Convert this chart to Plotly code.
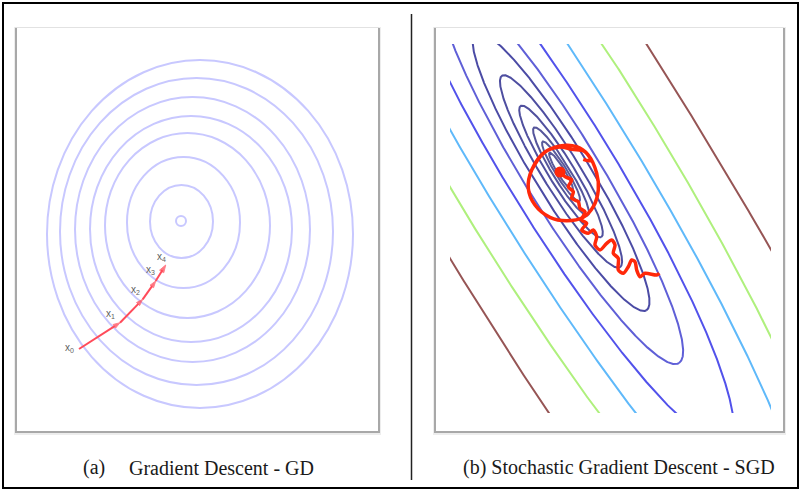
import numpy as np
import plotly.graph_objects as go

W, H = 801, 491

# ---------------- data (pixel-space units) ----------------
# (a) Gradient descent: near-concentric level curves (centre x, centre y, half-width, half-height)
gd_cx = [181, 181.5, 183.5, 187.5, 191, 192.5, 196.5, 200]
gd_cy = [221, 221.5, 222.5, 225.5, 229, 229.5, 231.5, 234]
gd_rx = [5, 31.5, 56.5, 82.5, 101, 117.5, 136.5, 153]
gd_ry = [5, 36.5, 65.5, 92.5, 113, 132.5, 153.5, 174]

# GD iterates x0..x4
gd_px = [79, 120, 142.7, 155.7, 165.7]
gd_py = [349, 322.7, 299.3, 281, 265]
gd_lab = ["x<sub>0</sub>", "x<sub>1</sub>", "x<sub>2</sub>", "x<sub>3</sub>", "x<sub>4</sub>"]
gd_lab_x = [69, 110, 135, 150, 161.5]
gd_lab_y = [348, 314, 290, 270, 257]

# (b) SGD: elongated level curves, in rotated coords (u along the valley, v across it)
sgd_angle_deg = 58.4
sgd_u0 = 440
sgd_v0 = 388
sgd_a = [22, 35, 51.5, 77, 112.5, 163, 225, 318, 464, 557, 985]
sgd_b = [3.7, 5.8, 8.6, 12.8, 18.8, 27.2, 37.5, 53, 74.3, 103.2, 140.3]
sgd_col = ["rgb(90,90,155)", "rgb(90,90,155)", "rgb(85,85,155)", "rgb(80,80,158)",
           "rgb(78,78,160)", "rgb(75,75,165)", "rgb(95,95,215)", "rgb(82,82,235)",
           "rgb(95,185,250)", "rgb(175,240,125)", "rgb(150,85,85)"]

# SGD noisy path (hand-drawn) and the circle around the minimum
sgd_path_x = [560, 565, 571.7, 568.3, 573.3, 571.7, 578.3, 580, 585, 581.7, 586.7, 581.7,
              588.3, 593.3, 596.7, 595, 600, 606.7, 611.7, 615, 613.3, 618.3, 618.3, 623.3,
              628.3, 631.7, 635, 636.7, 640, 645, 656.7, 659.3]
sgd_path_y = [171.7, 176.7, 180, 186.7, 191.7, 198.3, 201.7, 208.3, 211.7, 220, 223.3, 230,
              233.3, 230, 236.7, 245, 250, 243.3, 240, 245, 253.3, 258.3, 270, 273.3,
              266.7, 260, 261.7, 270, 276.7, 273.3, 275, 273.3]
ring_x = [531.7, 543.3, 560, 576.7, 588.3, 596.7, 598.3, 593.3, 583.3, 566.7, 550, 535,
          528.3, 531.7, 545, 560, 571.7, 585, 590.7, 583.3]
ring_y = [170, 153.3, 146, 146.7, 155, 173.3, 190, 206.7, 217.3, 220.7, 217.3, 205,
          188.3, 170, 152, 147, 149.3, 151.7, 160.7, 159.3]
min_x = [560]
min_y = [172]

caption_a_tag = "(a)"
caption_a = "Gradient Descent - GD"
caption_b = "(b) Stochastic Gradient Descent - SGD"

# ---------------- figure ----------------
fig = go.Figure()

def px(x):
    return x / W

def py(y):
    return 1 - y / H

shapes = []
# outer frame
shapes.append(dict(type="rect", xref="paper", yref="paper", x0=px(3), x1=px(798), y0=py(488), y1=py(3),
                   line=dict(color="black", width=2), layer="below"))
# divider
shapes.append(dict(type="line", xref="paper", yref="paper", x0=px(411.5), x1=px(411.5), y0=py(480), y1=py(14),
                   line=dict(color="#222", width=1.5), layer="below"))

def panel_box(x0, y0, x1, y1):
    out = []
    out.append(dict(type="rect", xref="paper", yref="paper", x0=px(x0 - 1), x1=px(x1 + 2), y0=py(y1 + 3), y1=py(y0),
                    line=dict(width=0), fillcolor="rgba(0,0,0,0.07)", layer="below"))
    out.append(dict(type="rect", xref="paper", yref="paper", x0=px(x0), x1=px(x1 + 1), y0=py(y1 + 1), y1=py(y0 + 1),
                    line=dict(width=0), fillcolor="#a8a8a8", layer="below"))
    out.append(dict(type="rect", xref="paper", yref="paper", x0=px(x0), x1=px(x1), y0=py(y0 + 1), y1=py(y0),
                    line=dict(width=0), fillcolor="#e2e2e2", layer="below"))
    out.append(dict(type="rect", xref="paper", yref="paper", x0=px(x0 + 2), x1=px(x1 - 1), y0=py(y1 - 1), y1=py(y0 + 1),
                    line=dict(width=0), fillcolor="white", layer="below"))
    return out

shapes += panel_box(15, 27, 379, 432)
shapes += panel_box(434, 27, 784, 432)

# GD level curves as ellipse shapes through the left axes
for cx, cy, rx, ry in zip(gd_cx, gd_cy, gd_rx, gd_ry):
    shapes.append(dict(type="circle", xref="x", yref="y", x0=cx - rx, x1=cx + rx, y0=cy - ry, y1=cy + ry,
                       line=dict(color="rgb(200,200,255)", width=2), layer="below"))

# GD path
fig.add_trace(go.Scatter(x=gd_px, y=gd_py, xaxis="x", yaxis="y", mode="lines+markers",
                         line=dict(color="rgb(255,75,90)", width=2),
                         marker=dict(symbol="arrow", angleref="previous", size=[0, 7, 7, 7, 8],
                                     color="rgb(255,60,75)"),
                         hoverinfo="skip"))

annotations = []
for lx, ly, t in zip(gd_lab_x, gd_lab_y, gd_lab):
    annotations.append(dict(x=lx, y=ly, xref="x", yref="y", text=t, showarrow=False,
                            font=dict(family="Liberation Sans", size=10, color="#606060")))

# SGD level curves
ang = np.deg2rad(sgd_angle_deg)
dx, dy = np.cos(ang), np.sin(ang)
nx, ny = np.sin(ang), -np.cos(ang)
t = np.linspace(0, 2 * np.pi, 2000)
for a, b, c in zip(sgd_a, sgd_b, sgd_col):
    u = sgd_u0 + a * np.cos(t)
    v = sgd_v0 + b * np.sin(t)
    fig.add_trace(go.Scatter(x=u * dx + v * nx, y=u * dy + v * ny, xaxis="x2", yaxis="y2", mode="lines",
                             line=dict(color=c, width=2), hoverinfo="skip"))

# SGD path, circle and minimum blob
fig.add_trace(go.Scatter(x=ring_x, y=ring_y, xaxis="x2", yaxis="y2", mode="lines",
                         line=dict(color="rgb(255,40,10)", width=3.5, shape="spline", smoothing=1.0),
                         hoverinfo="skip"))
fig.add_trace(go.Scatter(x=sgd_path_x, y=sgd_path_y, xaxis="x2", yaxis="y2", mode="lines",
                         line=dict(color="rgb(255,40,10)", width=3.5, shape="spline", smoothing=0.8),
                         hoverinfo="skip"))
fig.add_trace(go.Scatter(x=min_x, y=min_y, xaxis="x2", yaxis="y2", mode="markers",
                         marker=dict(color="rgb(255,40,10)", size=11), hoverinfo="skip"))

# captions
cap_y = py(467.5)
annotations.append(dict(x=px(80.5), y=cap_y, xref="paper", yref="paper", text=caption_a_tag, showarrow=False,
                        xanchor="left", yanchor="middle",
                        font=dict(family="Liberation Serif", size=20, color="#1a1a1a")))
annotations.append(dict(x=px(126.5), y=cap_y, xref="paper", yref="paper", text=caption_a, showarrow=False,
                        xanchor="left", yanchor="middle",
                        font=dict(family="Liberation Serif", size=20, color="#1a1a1a")))
annotations.append(dict(x=px(460.5), y=cap_y, xref="paper", yref="paper", text=caption_b, showarrow=False,
                        xanchor="left", yanchor="middle",
                        font=dict(family="Liberation Serif", size=20, color="#1a1a1a")))

ax_common = dict(visible=False, showgrid=False, zeroline=False, fixedrange=True)
fig.update_layout(
    width=W, height=H, margin=dict(l=0, r=0, t=0, b=0),
    paper_bgcolor="white", plot_bgcolor="rgba(0,0,0,0)", showlegend=False,
    xaxis=dict(domain=[px(17), px(378)], range=[17, 378], **ax_common),
    yaxis=dict(domain=[py(430), py(29)], range=[430, 29], **ax_common),
    xaxis2=dict(domain=[px(450), px(771)], range=[450, 771], **ax_common),
    yaxis2=dict(domain=[py(413), py(44)], range=[413, 44], **ax_common),
    shapes=shapes, annotations=annotations,
)

fig.write_html("out.html", config={"displayModeBar": False, "staticPlot": True},
               post_script="document.body.style.margin='0px';document.body.style.overflow='hidden';")
